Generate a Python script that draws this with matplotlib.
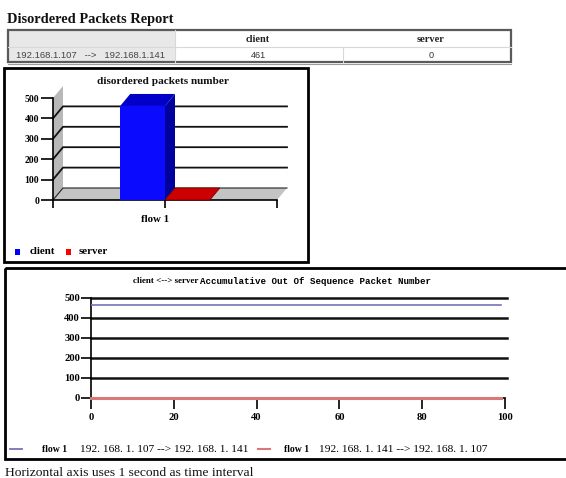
import matplotlib
matplotlib.use("Agg")
import matplotlib.pyplot as plt
from matplotlib.patches import Rectangle, Polygon
from matplotlib.lines import Line2D
from matplotlib.transforms import ScaledTranslation

# ---- data -------------------------------------------------------------
report_title = "Disordered Packets Report"
flow_pair = "192.168.1.107   -->   192.168.1.141"
table_columns = ["client", "server"]
table_values = [461, 0]

bar_title = "disordered packets number"
bar_categories = ["flow 1"]
bar_client = [461]
bar_server = [0]
bar_yticks = [0, 100, 200, 300, 400, 500]

line_title_a = "client <--> server"
line_title_b = "Accumulative Out Of Sequence Packet Number"
seconds = list(range(100))
client_accum = [461, 461, 461, 461, 461, 461, 461, 461, 461, 461,
                461, 461, 461, 461, 461, 461, 461, 461, 461, 461,
                461, 461, 461, 461, 461, 461, 461, 461, 461, 461,
                461, 461, 461, 461, 461, 461, 461, 461, 461, 461,
                461, 461, 461, 461, 461, 461, 461, 461, 461, 461,
                461, 461, 461, 461, 461, 461, 461, 461, 461, 461,
                461, 461, 461, 461, 461, 461, 461, 461, 461, 461,
                461, 461, 461, 461, 461, 461, 461, 461, 461, 461,
                461, 461, 461, 461, 461, 461, 461, 461, 461, 461,
                461, 461, 461, 461, 461, 461, 461, 461, 461, 461]
server_accum = [0, 0, 0, 0, 0, 0, 0, 0, 0, 0,
                0, 0, 0, 0, 0, 0, 0, 0, 0, 0,
                0, 0, 0, 0, 0, 0, 0, 0, 0, 0,
                0, 0, 0, 0, 0, 0, 0, 0, 0, 0,
                0, 0, 0, 0, 0, 0, 0, 0, 0, 0,
                0, 0, 0, 0, 0, 0, 0, 0, 0, 0,
                0, 0, 0, 0, 0, 0, 0, 0, 0, 0,
                0, 0, 0, 0, 0, 0, 0, 0, 0, 0,
                0, 0, 0, 0, 0, 0, 0, 0, 0, 0,
                0, 0, 0, 0, 0, 0, 0, 0, 0, 0]
line_xticks = [0, 20, 40, 60, 80, 100]
line_yticks = [0, 100, 200, 300, 400, 500]
legend_labels = ["192. 168. 1. 107 --> 192. 168. 1. 141",
                 "192. 168. 1. 141 --> 192. 168. 1. 107"]
footer = "Horizontal axis uses 1 second as time interval"

# ---- page -------------------------------------------------------------
W, H = 566, 478
fig = plt.figure(figsize=(W / 100, H / 100), dpi=100)
fig.patch.set_facecolor("white")

SERIF = "Liberation Serif"
MONO = "Liberation Mono"


def fx(px):
    return px / W


def fy(py):
    return 1 - py / H


# overlay in page pixels for frames, table and captions
page = fig.add_axes([0, 0, 1, 1])
page.set_xlim(0, W)
page.set_ylim(H, 0)
page.axis("off")
page.set_zorder(5)
page.patch.set_alpha(0)

page.text(7, 23, report_title, fontfamily=SERIF, fontweight="bold",
          fontsize=10.4, ha="left", va="baseline", color="#111111")

# table
tx0, tx1, ty0, tymid, ty1 = 8, 511, 30, 47, 62
split = 175
page.add_patch(Rectangle((tx0, ty0), split - tx0, ty1 - ty0,
                         facecolor="#e8e8e8", edgecolor="none"))
page.add_patch(Rectangle((tx0, ty0), tx1 - tx0, ty1 - ty0,
                         facecolor="none", edgecolor="#5a5a5a", lw=1.6))
page.plot([tx0, tx1], [tymid, tymid], color="#d8d8d8", lw=0.8)
page.plot([split, split], [ty0, ty1], color="#d8d8d8", lw=0.8)
page.plot([343, 343], [tymid, ty1], color="#d8d8d8", lw=0.8)
page.plot([tx0, tx1], [ty1 + 2, ty1 + 2], color="#9a9a9a", lw=0.8)
col_x = [258, 431]
for cx, name, val in zip(col_x, table_columns, table_values):
    page.text(cx, 39, name, fontfamily=SERIF, fontweight="bold", fontsize=7.5,
              ha="center", va="center", color="#222222")
    page.text(cx, 55, str(val), fontfamily="Liberation Sans", fontsize=6.6,
              ha="center", va="center", color="#333333")
page.text(91, 55, flow_pair, fontfamily="Liberation Sans", fontsize=6.8,
          ha="center", va="center", color="#444444")

# frames around the two charts
page.add_patch(Rectangle((4, 68), 304, 194, facecolor="none",
                         edgecolor="black", lw=2))
page.add_patch(Rectangle((5, 268), 570, 191, facecolor="none",
                         edgecolor="black", lw=2, clip_on=False))

# ---- 3-D style bar chart ---------------------------------------------
ax_b = fig.add_axes([fx(53), fy(200), 224 / W, 102 / H])
ax_b.set_xlim(-0.5, 0.5)
ax_b.set_ylim(0, 500)
ax_b.patch.set_alpha(0)
for s in ["top", "right"]:
    ax_b.spines[s].set_visible(False)
ax_b.spines["left"].set_linewidth(1.2)
ax_b.spines["bottom"].set_linewidth(1.2)

ddx = 10 / 224 * 1.0
ddy = 12 * 500 / 102
xl, xr = -0.5, 0.5

ax_b.add_patch(Polygon([(xl, 0), (xl + ddx, ddy), (xl + ddx, 500 + ddy), (xl, 500)],
                       closed=True, facecolor="#b8b8b8", edgecolor="none",
                       clip_on=False, zorder=1))
ax_b.add_patch(Polygon([(xl, 0), (xr, 0), (xr + ddx, ddy), (xl + ddx, ddy)],
                       closed=True, facecolor="#c4c4c4", edgecolor="none",
                       clip_on=False, zorder=1))
for v in bar_yticks[1:-1]:
    ax_b.plot([xl, xl + ddx, xr + ddx], [v, v + ddy, v + ddy], color="#111111",
              lw=1.3, clip_on=False, zorder=2)
ax_b.plot([xl, xl + ddx, xr + ddx], [0, ddy, ddy], color="#222222",
          lw=0.8, clip_on=False, zorder=2)

bw = 0.2
for i, (c, s) in enumerate(zip(bar_client, bar_server)):
    c0, c1 = i - bw, i
    ax_b.add_patch(Polygon([(c1, 0), (c1 + ddx, ddy), (c1 + ddx, c + ddy), (c1, c)],
                           closed=True, facecolor="#00009c", edgecolor="none",
                           clip_on=False, zorder=3))
    ax_b.add_patch(Polygon([(c0, c), (c1, c), (c1 + ddx, c + ddy), (c0 + ddx, c + ddy)],
                           closed=True, facecolor="#0000c8", edgecolor="none",
                           clip_on=False, zorder=3))
    ax_b.bar(c0, c, width=bw, align="edge", color="#0a0aff", zorder=4)
    s0, s1 = i, i + bw
    ax_b.add_patch(Polygon([(s0, s), (s1, s), (s1 + ddx, s + ddy), (s0 + ddx, s + ddy)],
                           closed=True, facecolor="#cc0000", edgecolor="#7a0000",
                           lw=0.6, clip_on=False, zorder=3))

ax_b.set_yticks(bar_yticks)
ax_b.set_yticklabels([str(t) for t in bar_yticks], fontfamily=SERIF,
                     fontweight="bold", fontsize=7)
ax_b.tick_params(axis="y", length=9, width=1.2, pad=1)
ax_b.set_xticks([xl, 0, xr])
ax_b.set_xticklabels(["", bar_categories[0], ""], fontfamily=SERIF,
                     fontweight="bold", fontsize=7.8)
ax_b.tick_params(axis="x", length=6, width=1.2, pad=5)
lab = ax_b.get_xticklabels()[1]
lab.set_transform(lab.get_transform() + ScaledTranslation(-0.1, 0, fig.dpi_scale_trans))

page.text(163, 81, bar_title, fontfamily=SERIF, fontweight="bold",
          fontsize=8.1, ha="center", va="center", color="#111111")
page.add_patch(Rectangle((15, 249), 5, 6, facecolor="#0000ff", edgecolor="none"))
page.text(30, 251.5, table_columns[0], fontfamily=SERIF, fontweight="bold",
          fontsize=7.8, ha="left", va="center")
page.add_patch(Rectangle((66, 249), 5, 6, facecolor="#ff0000", edgecolor="none"))
page.text(79, 251.5, table_columns[1], fontfamily=SERIF, fontweight="bold",
          fontsize=7.8, ha="left", va="center")

# ---- accumulative line chart -----------------------------------------
ax_l = fig.add_axes([fx(91), fy(397.5), 414 / W, 100 / H])
ax_l.set_xlim(0, 100)
ax_l.set_ylim(0, 500)
ax_l.patch.set_alpha(0)
for s in ["top", "right"]:
    ax_l.spines[s].set_visible(False)
ax_l.spines["left"].set_linewidth(1.2)
ax_l.spines["bottom"].set_linewidth(1.2)
for v in line_yticks[1:]:
    ax_l.plot([0, 100.5], [v, v], color="#111111", lw=1.8, clip_on=False, zorder=1)
ax_l.plot(seconds, client_accum, color="#7474b4", lw=1.2, zorder=3)
ax_l.plot(seconds, server_accum, color="#d87878", lw=2.2, zorder=3, clip_on=False)
ax_l.set_xticks(line_xticks)
ax_l.set_xticklabels([str(t) for t in line_xticks], fontfamily=SERIF,
                     fontweight="bold", fontsize=7.6)
ax_l.set_yticks(line_yticks)
ax_l.set_yticklabels([str(t) for t in line_yticks], fontfamily=SERIF,
                     fontweight="bold", fontsize=7.6)
ax_l.tick_params(axis="x", length=8, width=1.2, pad=3)
ax_l.tick_params(axis="y", length=7, width=1.2, pad=1)

page.text(198, 281, line_title_a, fontfamily=SERIF, fontweight="bold",
          fontsize=6.5, ha="right", va="center")
page.text(200, 281.5, line_title_b, fontfamily=MONO, fontweight="bold",
          fontsize=6.6, ha="left", va="center")

# legend
page.add_artist(Line2D([10, 22], [449, 449], color="#7474b4", lw=1.3))
page.text(42, 449, "flow 1", fontfamily=SERIF, fontweight="bold",
          fontsize=7, ha="left", va="center")
page.text(80, 449, legend_labels[0], fontfamily=SERIF, fontsize=8.2,
          ha="left", va="center")
page.add_artist(Line2D([258, 270], [449, 449], color="#d87878", lw=1.5))
page.text(284, 449, "flow 1", fontfamily=SERIF, fontweight="bold",
          fontsize=7, ha="left", va="center")
page.text(319, 449, legend_labels[1], fontfamily=SERIF, fontsize=8.2,
          ha="left", va="center")

page.text(5, 473, footer, fontfamily=SERIF, fontsize=9.7,
          ha="left", va="center", color="#111111")

fig.savefig("out.png", dpi=100, facecolor="white")
